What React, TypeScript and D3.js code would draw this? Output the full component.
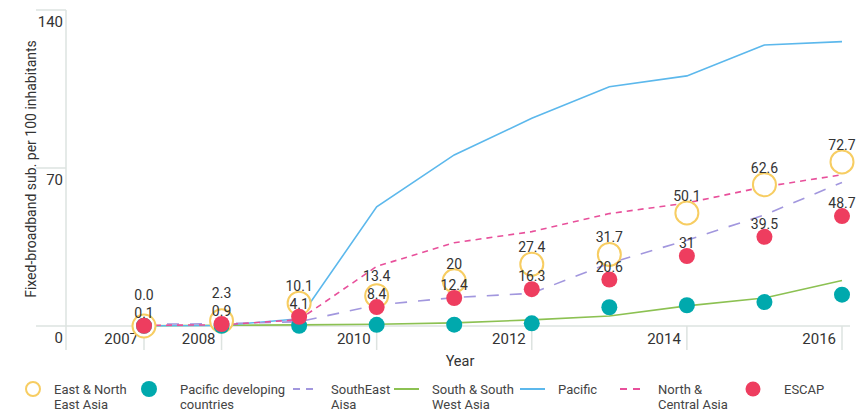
import React from "react";
import * as d3 from "d3";

const years = [2007, 2008, 2009, 2010, 2011, 2012, 2013, 2014, 2015, 2016];
const tickYears = [2007, 2008, 2010, 2012, 2014, 2016];
const yTicks = [0, 70, 140];

const eastNorthEast = [0.0, 2.3, 10.1, 13.4, 20, 27.4, 31.7, 50.1, 62.6, 72.7];
const escap = [0.1, 0.9, 4.1, 8.4, 12.4, 16.3, 20.6, 31, 39.5, 48.7];
const pacificDev = [0.1, 0.1, 0.1, 0.5, 0.6, 1.2, 8.3, 9.2, 10.6, 13.9];
const southEast = [0.8, 1.0, 1.9, 9.3, 12.6, 14.5, 27.8, 38, 49.2, 63.6];
const southWest = [0.1, 0.3, 0.5, 0.8, 1.4, 2.7, 4.4, 8.9, 12.4, 20.2];
const pacific = [0.1, 0.2, 3.2, 52.8, 75.8, 92, 106, 110.8, 124.5, 126];
const northCentral = [0.3, 0.5, 2.8, 26.4, 36.9, 41.8, 49.8, 54.5, 61.7, 67];

const legendNames = [
  ["East & North", "East Asia"],
  ["Pacific developing", "countries"],
  ["SouthEast", "Aisa"],
  ["South & South", "West Asia"],
  ["Pacific"],
  ["North &", "Central Asia"],
  ["ESCAP"],
];

const C = {
  yellow: "#f7cd62",
  teal: "#00a9ad",
  red: "#ee3d5f",
  purple: "#a297de",
  green: "#8cc152",
  blue: "#5cb8ec",
  pink: "#e8509b",
  grid: "#dde3e0",
  text: "#333333",
};

const fmt = (v: number) => (v === 0 ? "0.0" : String(v));

export default function App() {
  const W = 856;
  const H = 420;
  const x = d3.scaleLinear().domain([2007, 2016]).range([144, 842]);
  const y = d3.scaleLinear().domain([0, 140]).range([326, 10]);
  const font = "Roboto, 'Noto Sans', sans-serif";

  const line = (vals: number[]) =>
    d3
      .line<number>()
      .x((_, i) => x(years[i]))
      .y((v) => y(v))(vals) as string;

  const lineSeries = [
    { vals: southWest, color: C.green, dash: undefined },
    { vals: pacific, color: C.blue, dash: undefined },
    { vals: southEast, color: C.purple, dash: "12,11" },
    { vals: northCentral, color: C.pink, dash: "6,5" },
  ];

  const legendMarkX = [33, 149, 293, 394, 520, 620, 753];
  const legendTextX = [54, 180, 331, 432, 558, 658, 784];

  // label positions
  const escapLabelY = escap.map((v) => y(v) - 13);
  const enLabelY = eastNorthEast.map((v, i) =>
    Math.min(y(v) - 17, escapLabelY[i] - 18)
  );

  return (
    <svg
      width={W}
      height={H}
      style={{ position: "absolute", left: 0, top: 0, background: "#fff" }}
      fontFamily={font}
    >
      {/* y axis */}
      <line x1={66} x2={66} y1={10} y2={350} stroke={C.grid} strokeWidth={1.5} />
      {yTicks.map((t) => (
        <g key={t}>
          <line
            x1={36}
            x2={t === 0 ? 850 : 66}
            y1={y(t)}
            y2={y(t)}
            stroke={C.grid}
            strokeWidth={1.5}
          />
          <text
            x={63}
            y={y(t) + 12}
            textAnchor="end"
            dominantBaseline="central"
            fontSize={15}
            fill={C.text}
          >
            {t}
          </text>
        </g>
      ))}
      {/* x ticks */}
      {tickYears.map((t) => (
        <g key={t}>
          <line
            x1={x(t)}
            x2={x(t)}
            y1={y(0)}
            y2={350}
            stroke={C.grid}
            strokeWidth={1.5}
          />
          <text
            x={x(t) - 6}
            y={339}
            textAnchor="end"
            dominantBaseline="central"
            fontSize={15}
            fill={C.text}
          >
            {t}
          </text>
        </g>
      ))}
      <text
        x={460}
        y={361}
        textAnchor="middle"
        dominantBaseline="central"
        fontSize={14.5}
        fill={C.text}
      >
        Year
      </text>
      <text
        transform={`translate(31,169) rotate(-90)`}
        textAnchor="middle"
        dominantBaseline="central"
        fontSize={14}
        fill={C.text}
      >
        Fixed-broadband sub. per 100 inhabitants
      </text>

      {/* lines */}
      {lineSeries.map((s, i) => (
        <path
          key={i}
          d={line(s.vals)}
          fill="none"
          stroke={s.color}
          strokeWidth={1.6}
          strokeDasharray={s.dash}
        />
      ))}

      {/* East & North East Asia hollow circles */}
      {eastNorthEast.map((v, i) => (
        <circle
          key={"en" + i}
          cx={x(years[i])}
          cy={y(v)}
          r={11.5}
          fill="#fff"
          stroke={C.yellow}
          strokeWidth={2}
        />
      ))}
      {pacificDev.map((v, i) => (
        <circle key={"pd" + i} cx={x(years[i])} cy={y(v)} r={8} fill={C.teal} />
      ))}
      {escap.map((v, i) => (
        <circle key={"es" + i} cx={x(years[i])} cy={y(v)} r={8} fill={C.red} />
      ))}

      {/* labels */}
      {eastNorthEast.map((v, i) => (
        <text
          key={"enl" + i}
          x={x(years[i])}
          y={enLabelY[i]}
          textAnchor="middle"
          dominantBaseline="central"
          fontSize={14}
          fill={C.text}
        >
          {fmt(v)}
        </text>
      ))}
      {escap.map((v, i) => (
        <text
          key={"esl" + i}
          x={x(years[i])}
          y={escapLabelY[i]}
          textAnchor="middle"
          dominantBaseline="central"
          fontSize={14}
          fill={C.text}
        >
          {fmt(v)}
        </text>
      ))}

      {/* legend */}
      {legendNames.map((lines, i) => {
        const mx = legendMarkX[i];
        const my = 389;
        let marker: React.ReactNode = null;
        if (i === 0)
          marker = <circle cx={mx} cy={my} r={7} fill="#fff" stroke={C.yellow} strokeWidth={2} />;
        else if (i === 1) marker = <circle cx={mx} cy={my} r={8} fill={C.teal} />;
        else if (i === 6) marker = <circle cx={mx} cy={my} r={7.5} fill={C.red} />;
        else {
          const col = [C.purple, C.green, C.blue, C.pink][i - 2];
          const dashed = i === 2 || i === 5;
          marker = (
            <line
              x1={mx}
              x2={mx + 25}
              y1={my}
              y2={my}
              stroke={col}
              strokeWidth={2}
              strokeDasharray={dashed ? "7,6" : undefined}
            />
          );
        }
        return (
          <g key={"lg" + i}>
            {marker}
            {lines.map((t, j) => (
              <text
                key={j}
                x={legendTextX[i]}
                y={my + j * 15.5}
                dominantBaseline="central"
                fontSize={13}
                fill="#444"
              >
                {t}
              </text>
            ))}
          </g>
        );
      })}
    </svg>
  );
}
